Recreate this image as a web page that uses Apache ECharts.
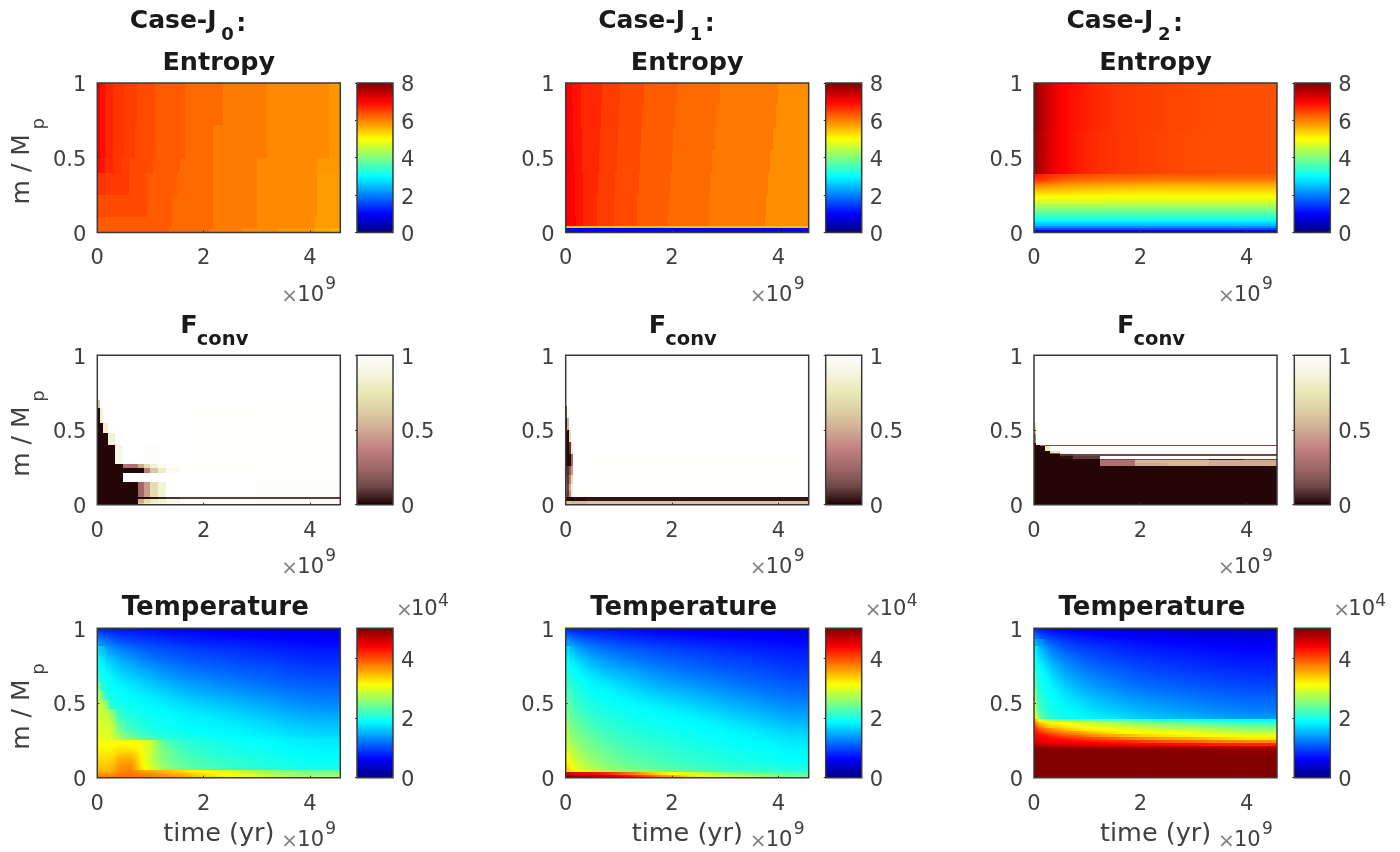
<!DOCTYPE html>
<html>
<head>
<meta charset="utf-8">
<title>Entropy, F_conv and Temperature for three Jupiter cases</title>
<style>
html,body{margin:0;padding:0;background:#fff;}
#chart{width:1400px;height:852px;filter:blur(0.7px);}
</style>
<script src="https://cdn.jsdelivr.net/npm/echarts@6/dist/echarts.min.js"></script>
</head>
<body>
<div id="chart"></div>
<script>
/* ---------- tick labels and ranges ---------- */
const timeTicks = [0, 2, 4];
const massTicks = [0, 0.5, 1];
const timeMax = 4.57;
const entropyTicks = [0, 2, 4, 6, 8];
const fconvTicks = [0, 0.5, 1];
const temperatureTicks = [0, 2, 4];
const caseNames = ['0', '1', '2'];

/* ---------- colour scales ---------- */
const jetColors = ['#000080','#0000ff','#0080ff','#00ffff','#80ff80','#ffff00','#ff8000','#ff0000','#800000'];
const pinkColors = ['#1e0000','#714a4a','#a06868','#c28080','#d0ab93','#ddcda4','#e9e9b4','#f4f4dd','#ffffff'];

/* ---------- Entropy, Case-J0 (band edges differ per mass row) ---------- */
const entropyJ0Times = [
 [0,.06,.14,.3,.5,.74,1.09,1.65,2.37,3.19,4.35,4.57],
 [0,.06,.14,.3,.5,.7,1.09,1.65,2.18,3.19,4.35,4.57],
 [0,.05,.12,.3,.45,.62,1.05,1.55,2.18,3.0,4.13,4.57],
 [0,.1,.6,.93,1.5,2.18,3.0,4.13,4.57],
 [0,.93,1.43,2.18,3.0,4.13,4.57],
 [0,1.4,2.18,3.0,4.1,4.57],
 [0,1.35,2.1,2.7,3.4,4.1,4.4,4.57]
];
const entropyJ0Mass = [1,.72,.5,.4,.25,.1,.03,0];
const entropyJ0 = [
 [7.05,6.9,6.72,6.6,6.52,6.42,6.3,6.17,6.05,5.92,5.82],
 [7.05,6.9,6.72,6.6,6.52,6.42,6.3,6.17,6.05,5.92,5.82],
 [6.95,6.85,6.7,6.6,6.52,6.42,6.3,6.17,6.05,5.92,5.82],
 [6.62,6.55,6.42,6.3,6.17,6.05,5.92,5.78],
 [6.42,6.3,6.17,6.05,5.92,5.78],
 [6.3,6.17,6.05,5.92,5.78],
 [6.3,6.17,6.05,5.92,5.82,5.7,5.6]
];

/* ---------- Entropy, Case-J1 (band edges drift with mass) ---------- */
const entropyJ1Times = [
 [0,.12,.28,.68,1.02,1.47,2.1,2.9,4.0,4.57],
 [0,.13,.29,.66,1,1.44,2.05,2.85,3.95,4.57],
 [0,.14,.3,.64,.98,1.42,2.02,2.8,3.9,4.57],
 [0,.15,.31,.62,.96,1.4,2,2.76,3.85,4.57],
 [0,.17,.32,.6,.93,1.37,1.97,2.72,3.8,4.57],
 [0,.18,.33,.59,.91,1.35,1.95,2.7,3.77,4.57],
 [0,.2,.33,.58,.9,1.34,1.93,2.69,3.75,4.57],
 [0,4.57],
 [0,4.57]
];
const entropyJ1Mass = [1,.85,.7,.55,.4,.25,.1,.04,.03,0];
const entropyJ1 = [
 [7.0,6.85,6.7,6.53,6.42,6.28,6.17,6.06,5.9],
 [7.0,6.85,6.7,6.53,6.42,6.28,6.17,6.06,5.9],
 [7.0,6.85,6.7,6.53,6.42,6.28,6.17,6.06,5.9],
 [7.0,6.85,6.7,6.53,6.42,6.28,6.17,6.06,5.9],
 [7.0,6.85,6.7,6.53,6.42,6.28,6.17,6.06,5.9],
 [7.0,6.85,6.7,6.53,6.42,6.28,6.17,6.06,5.9],
 [7.0,6.85,6.7,6.53,6.42,6.28,6.17,6.06,5.9],
 [5.5],
 [0.95]
];

/* ---------- Entropy, Case-J2 ---------- */
const entropyJ2UpperTimes = [
 [0,.08,.21,.33,.49,.74,1.12,1.6,2.45,3.4,4.57],
 [0,.08,.21,.33,.48,.71,1.02,1.56,2.28,3.19,4.57]
];
const entropyJ2UpperMass = [1,.67,.39];
const entropyJ2Upper = [
 [7.9,7.6,7.35,7.15,6.95,6.78,6.63,6.53,6.44,6.38],
 [7.8,7.55,7.32,7.13,6.95,6.78,6.63,6.53,6.44,6.38]
];
const entropyJ2LowerTimes = [0,.3,.8,1.6,2.8,4.57];
const entropyJ2LowerMass = [.39,.375,.36,.345,.33,.315,.3,.285,.27,.255,.24,.225,.21,.195,.18,.165,.15,.135,.12,.105,.09,.075,.06,.045,.03,.015,0];
const entropyJ2Lower = [
 [6.8,6.5,6.35,6.3,6.25],
 [6.7,6.4,6.25,6.2,6.18],
 [6.55,6.25,6.12,6.08,6.05],
 [6.35,6.08,5.98,5.9,5.9],
 [6.1,5.9,5.8,5.72,5.72],
 [5.85,5.72,5.62,5.55,5.57],
 [5.65,5.55,5.47,5.4,5.42],
 [5.45,5.4,5.33,5.27,5.3],
 [5.28,5.25,5.2,5.15,5.18],
 [5.12,5.1,5.08,5.03,5.06],
 [4.97,4.96,4.95,4.9,4.93],
 [4.8,4.8,4.8,4.77,4.79],
 [4.62,4.62,4.62,4.62,4.62],
 [4.43,4.43,4.43,4.43,4.43],
 [4.25,4.25,4.25,4.25,4.25],
 [4.06,4.06,4.06,4.06,4.06],
 [3.87,3.87,3.87,3.87,3.87],
 [3.68,3.68,3.68,3.68,3.68],
 [3.5,3.5,3.5,3.5,3.5],
 [3.32,3.32,3.32,3.32,3.32],
 [3.05,3.05,3.05,3.05,3.05],
 [2.8,2.8,2.8,2.8,2.8],
 [2.5,2.5,2.5,2.5,2.5],
 [2.1,2.1,2.1,2.1,2.1],
 [1.6,1.6,1.6,1.6,1.6],
 [0.9,0.9,0.9,0.9,0.9]
];

/* ---------- F_conv, Case-J0 ---------- */
const fconvJ0Times = [0,.05,.11,.2,.33,.49,.77,.87,1,1.15,1.3,1.55,3,4.57];
const fconvJ0Mass = [1,.7,.65,.55,.48,.4,.27,.245,.215,.15,.05,.036,.012,0];
const fconvJ0 = [
 [1,1,1,1,1,1,1,1,1,1,1,1,1],
 [.6,1,1,1,1,1,1,1,1,1,1,1,.995],
 [.01,.85,1,1,1,1,1,1,1,1,1,.995,.99],
 [.01,.01,.85,1,1,1,1,1,1,1,1,.995,.99],
 [.01,.01,.01,.85,1,1,1,1,1,1,1,.99,.985],
 [.01,.01,.01,.01,.9,1,.99,.98,.98,.99,1,.99,.985],
 [.01,.01,.01,.01,.01,.3,.5,.7,.85,.95,1,.99,.985],
 [.01,.01,.01,.01,.01,.01,.01,.35,.6,.8,.95,.99,.985],
 [.01,.01,.01,.01,.01,1,1,1,1,1,1,1,.99],
 [.01,.01,.01,.01,.01,.01,.25,.45,.7,.85,1,1,.98],
 [.01,.01,.01,.01,.01,.01,.01,.01,.03,.05,.08,.1,.1],
 [.01,.01,.01,.01,.01,.01,.5,.7,.8,.85,.92,.97,.97],
 [.01,.01,.01,.01,.01,.01,.6,.8,.85,.9,.95,.95,.95]
];

/* ---------- F_conv, Case-J1 ---------- */
const fconvJ1Times = [0,.03,.06,.1,.14,.4,4.57];
const fconvJ1Mass = [1,.66,.58,.5,.42,.34,.26,.2,.14,.09,.05,.025,0];
const fconvJ1 = [
 [1,1,1,1,1,1],
 [.15,.95,1,1,1,1],
 [.01,.5,1,1,1,1],
 [.01,.01,.7,1,1,1],
 [.01,.01,.1,.8,1,1],
 [.01,.01,.01,.25,1,.995],
 [.1,.08,.2,.45,1,.995],
 [.15,.1,.35,.7,1,.99],
 [.2,.12,.5,.85,.99,.99],
 [.2,.1,.4,.9,.99,.985],
 [.01,.01,.01,.01,.02,.03],
 [.6,.6,.6,.55,.55,.6]
];

/* ---------- F_conv, Case-J2 ---------- */
const fconvJ2Times = [0,.03,.11,.2,.3,.49,.74,1.24,1.9,2.5,3.3,3.95,4.57];
const fconvJ2Mass = [1,.55,.47,.41,.397,.39,.36,.345,.337,.328,.305,.297,.28,.257,0];
const fconvJ2 = [
 [1,1,1,1,1,1,1,1,1,1,1,1],
 [.7,1,1,1,1,1,1,1,1,1,1,1],
 [.35,1,1,1,1,1,1,1,1,1,1,1],
 [.01,.95,1,1,1,1,1,1,1,1,1,1],
 [.01,.01,.3,.12,.12,.12,.12,.12,.12,.12,.12,.12],
 [.01,.01,.01,.8,1,1,1,1,1,1,1,1],
 [.01,.01,.01,.01,.75,1,1,1,1,1,1,1],
 [.01,.01,.01,.01,.2,.85,1,1,1,1,1,1],
 [.01,.01,.01,.01,.01,.1,.12,.12,.12,.12,.12,.12],
 [.01,.01,.01,.01,.01,.03,.1,1,1,1,.95,.95],
 [.01,.01,.01,.01,.01,.01,.01,.12,.15,.15,.06,.12],
 [.01,.01,.01,.01,.01,.01,.01,.3,.55,.55,.5,.5],
 [.01,.01,.01,.01,.01,.01,.01,.3,.5,.55,.5,.5],
 [.01,.01,.01,.01,.01,.01,.01,.01,.01,.01,.01,.01]
];

/* ---------- Temperature (x 10^4), Case-J0 ---------- */
const tempJ0Times = [0,.06,.13,.2,.33,.5,.75,.9,1.1,1.4,1.8,2.4,3,3.6,4.57];
const tempJ0Mass = [1,.97,.93,.88,.82,.76,.7,.64,.58,.52,.46,.4,.34,.28,.25,.2,.15,.1,.05,.03,.015,0];
const tempJ0 = [
 [.85,.82,.8,.78,.75,.72,.7,.68,.66,.63,.6,.57,.55,.52],
 [1.1,1.05,1.0,.95,.9,.85,.82,.8,.76,.72,.68,.64,.62,.58],
 [1.4,1.3,1.25,1.15,1.05,1.0,.95,.92,.88,.83,.78,.74,.7,.65],
 [1.7,1.6,1.5,1.4,1.3,1.2,1.12,1.08,1.02,.97,.9,.85,.8,.74],
 [1.87,1.78,1.68,1.58,1.48,1.38,1.28,1.22,1.15,1.08,1.02,.95,.9,.82],
 [1.95,1.88,1.82,1.72,1.62,1.52,1.42,1.38,1.3,1.2,1.12,1.05,1,.92],
 [2.1,1.97,1.9,1.85,1.75,1.65,1.58,1.52,1.42,1.33,1.25,1.15,1.08,1],
 [2.5,2.05,1.97,1.9,1.85,1.78,1.7,1.65,1.57,1.47,1.37,1.27,1.18,1.1],
 [2.75,2.45,2.05,1.97,1.9,1.85,1.82,1.78,1.7,1.6,1.5,1.4,1.3,1.2],
 [2.85,2.8,2.6,2.05,1.97,1.92,1.87,1.85,1.8,1.72,1.63,1.52,1.42,1.3],
 [2.9,2.85,2.85,2.6,2.1,2.0,1.95,1.9,1.87,1.82,1.75,1.65,1.55,1.42],
 [2.95,2.9,2.9,2.85,2.3,2.1,2.02,1.97,1.92,1.87,1.82,1.75,1.65,1.55],
 [3.0,2.95,2.95,2.9,2.5,2.25,2.12,2.05,1.98,1.92,1.87,1.83,1.75,1.65],
 [3.05,3.0,3.0,2.95,2.75,2.5,2.3,2.2,2.1,2.03,1.95,1.88,1.83,1.75],
 [3.1,3.1,3.1,3.1,3.15,3.1,3.05,2.9,2.35,2.12,2.0,1.93,1.87,1.8],
 [3.2,3.2,3.2,3.2,3.3,3.3,3.15,2.85,2.5,2.22,2.07,1.97,1.92,1.84],
 [3.3,3.3,3.3,3.3,3.5,3.55,3.2,2.85,2.5,2.3,2.15,2.05,1.98,1.9],
 [3.4,3.4,3.4,3.45,3.65,3.7,3.25,2.95,2.6,2.37,2.22,2.1,2.02,1.95],
 [3.5,3.5,3.5,3.5,3.7,3.75,3.6,3.55,3.45,3.3,3.05,2.8,2.6,2.4],
 [3.65,3.65,3.65,3.65,3.75,3.8,3.75,3.7,3.6,3.5,3.2,3.0,2.75,2.6],
 [3.75,3.75,3.75,3.75,3.8,3.85,3.8,3.75,3.7,3.55,3.3,3.05,2.85,2.7]
];

/* ---------- Temperature (x 10^4), Case-J1 ---------- */
const tempJ1Times = [0,.1,.3,.6,1,1.5,2,2.5,3,3.5,4,4.57];
const tempJ1Mass = [1,.97,.93,.88,.82,.76,.7,.64,.58,.52,.46,.4,.34,.28,.22,.16,.1,.06,.035,.02,.01,0];
const tempJ1 = [
 [.85,.8,.75,.72,.68,.62,.6,.58,.55,.52,.5],
 [1.1,1.0,.9,.85,.78,.72,.68,.64,.62,.6,.58],
 [1.4,1.25,1.1,1.0,.92,.85,.8,.76,.72,.68,.65],
 [1.7,1.5,1.3,1.18,1.08,1.0,.93,.88,.82,.78,.74],
 [1.85,1.7,1.5,1.35,1.22,1.12,1.05,.98,.93,.88,.82],
 [1.95,1.85,1.65,1.5,1.38,1.25,1.15,1.08,1.02,.96,.9],
 [2.05,1.92,1.8,1.65,1.52,1.38,1.28,1.2,1.12,1.05,.98],
 [2.15,2.0,1.88,1.8,1.65,1.5,1.42,1.32,1.22,1.15,1.08],
 [2.25,2.08,1.95,1.87,1.78,1.65,1.55,1.45,1.35,1.25,1.18],
 [2.35,2.15,2.03,1.93,1.87,1.78,1.68,1.58,1.48,1.38,1.28],
 [2.45,2.25,2.1,2.0,1.92,1.87,1.8,1.7,1.6,1.5,1.4],
 [2.55,2.35,2.2,2.08,1.98,1.92,1.87,1.82,1.72,1.62,1.52],
 [2.65,2.45,2.3,2.15,2.05,1.98,1.92,1.87,1.83,1.75,1.65],
 [2.78,2.55,2.4,2.25,2.12,2.05,1.98,1.92,1.87,1.83,1.75],
 [2.92,2.68,2.5,2.35,2.2,2.12,2.05,1.98,1.93,1.88,1.83],
 [3.1,2.82,2.62,2.45,2.3,2.2,2.12,2.05,2.0,1.95,1.88],
 [3.25,2.95,2.72,2.55,2.4,2.28,2.2,2.12,2.07,2.02,1.97],
 [3.3,3.05,2.85,2.7,2.55,2.42,2.32,2.25,2.18,2.12,2.06],
 [4.6,4.5,4.4,4.2,3.8,3.3,2.95,2.7,2.5,2.35,2.25],
 [5,4.9,4.8,4.6,4.2,3.7,3.3,3.0,2.75,2.55,2.4],
 [5,5,4.9,4.7,4.35,3.85,3.45,3.1,2.85,2.65,2.5]
];

/* ---------- Temperature (x 10^4), Case-J2 ---------- */
const tempJ2Times = [0,.04,.1,.2,.35,.6,1,1.5,2,2.75,3.5,4.57];
const tempJ2Mass = [1,.97,.93,.88,.82,.76,.7,.64,.58,.52,.46,.42,.39,.37,.35,.33,.31,.29,.27,.25,.23,.215,.2,.19,0];
const tempJ2 = [
 [.9,.85,.75,.7,.65,.6,.55,.5,.45,.42,.4],
 [1.2,1.1,1.0,.9,.8,.72,.65,.6,.55,.5,.48],
 [1.55,1.4,1.3,1.1,1,.85,.78,.72,.66,.6,.55],
 [1.85,1.7,1.55,1.35,1.15,1,.9,.82,.75,.7,.65],
 [2.0,1.85,1.72,1.5,1.32,1.15,1,.92,.85,.78,.72],
 [2.1,1.95,1.85,1.68,1.48,1.28,1.12,1.02,.93,.87,.8],
 [2.25,2.02,1.92,1.8,1.6,1.4,1.25,1.12,1.03,.96,.88],
 [2.4,2.1,1.97,1.87,1.72,1.52,1.35,1.22,1.13,1.05,.98],
 [2.65,2.2,2.03,1.92,1.82,1.65,1.48,1.35,1.25,1.15,1.08],
 [2.95,2.3,2.1,1.98,1.88,1.77,1.6,1.48,1.37,1.27,1.18],
 [3.05,2.45,2.18,2.03,1.92,1.85,1.72,1.6,1.48,1.38,1.28],
 [3.25,2.75,2.3,2.1,1.97,1.88,1.8,1.7,1.58,1.48,1.38],
 [3.6,3.3,3.0,2.85,2.75,2.6,2.45,2.3,2.1,2,1.9],
 [3.85,3.6,3.4,3.2,3.15,3.0,2.8,2.65,2.5,2.35,2.2],
 [4.1,3.85,3.65,3.4,3.3,3.15,3.0,2.85,2.7,2.55,2.4],
 [4.25,4.1,3.9,3.7,3.55,3.3,3.12,3.05,2.9,2.8,2.6],
 [4.35,4.25,4.15,3.95,3.8,3.6,3.35,3.15,3.1,3.0,2.8],
 [4.4,4.4,4.3,4.2,4.05,3.9,3.65,3.45,3.3,3.15,3.05],
 [4.5,4.45,4.4,4.35,4.3,4.15,3.95,3.8,3.6,3.45,3.25],
 [4.6,4.55,4.5,4.45,4.4,4.35,4.25,4.15,4,3.85,3.7],
 [4.75,4.7,4.65,4.6,4.55,4.5,4.45,4.4,4.35,4.3,4.2],
 [4.9,4.88,4.85,4.82,4.8,4.78,4.75,4.72,4.7,4.68,4.62],
 [4.98,4.98,4.97,4.96,4.95,4.95,4.94,4.93,4.92,4.9,4.85],
 [5,5,5,5,5,5,5,5,5,5,5]
];

/* ---------- cell table built from the arrays above ----------
   Each row is [t0, t1, m0, m1, value, left, right, top, bottom]. The last four
   only steer how a smooth panel's fill is painted towards its neighbours
   (sharp jumps stay sharp); the plotted value is always the read one. */
const SHARP_STEP = 0.3;
function cells(times, mass, values, shade) {
  const out = [];
  values.forEach(function (row, r) {
    const t = Array.isArray(times[0]) ? times[r] : times;
    row.forEach(function (v, c) {
      const left = shade && c > 0 ? (row[c - 1] + v) / 2 : v;
      const right = shade && c < row.length - 1 ? (row[c + 1] + v) / 2 : v;
      let top = v, bottom = v;
      if (shade === 'xy') {
        if (r > 0 && Math.abs(values[r - 1][c] - v) <= SHARP_STEP) top = (values[r - 1][c] + v) / 2;
        if (r < values.length - 1 && Math.abs(values[r + 1][c] - v) <= SHARP_STEP) bottom = (values[r + 1][c] + v) / 2;
      }
      out.push([t[c], t[c + 1], mass[r + 1], mass[r], v, left, right, top, bottom]);
    });
  });
  return out;
}
const panelCells = [
  [cells(entropyJ0Times, entropyJ0Mass, entropyJ0),
   cells(entropyJ1Times, entropyJ1Mass, entropyJ1),
   cells(entropyJ2UpperTimes, entropyJ2UpperMass, entropyJ2Upper, 'x')
     .concat(cells(entropyJ2LowerTimes, entropyJ2LowerMass, entropyJ2Lower, 'xy'))],
  [cells(fconvJ0Times, fconvJ0Mass, fconvJ0),
   cells(fconvJ1Times, fconvJ1Mass, fconvJ1),
   cells(fconvJ2Times, fconvJ2Mass, fconvJ2)],
  [cells(tempJ0Times, tempJ0Mass, tempJ0, 'xy'),
   cells(tempJ1Times, tempJ1Mass, tempJ1, 'xy'),
   cells(tempJ2Times, tempJ2Mass, tempJ2, 'xy')]
];

/* ---------- layout ---------- */
const FONT = '"DejaVu Sans"';
const TEXT = '#404040';
const DARK = '#1a1a1a';
const FRAME = '#3a3a3a';
const colLeft = [97.3, 565.7, 1034];
const barLeft = [357, 825.7, 1294.3];
const rowTop = [83, 355.3, 628.3];
const plotW = 243, barW = 36, plotH = 149.4;
const scales = [
  { colors: jetColors, max: 8, ticks: entropyTicks },
  { colors: pinkColors, max: 1, ticks: fconvTicks },
  { colors: jetColors, max: 5, ticks: temperatureTicks }
];

function txt(text, x, y, size, o) {
  o = o || {};
  return {
    type: 'text', x: x, y: y, rotation: o.rot || 0, silent: true, z: 50,
    style: {
      text: text, fill: o.fill || TEXT, align: o.align || 'left', verticalAlign: 'middle',
      font: (o.bold ? 'bold ' : '') + size + 'px ' + FONT
    }
  };
}

function paintCell(api, sc) {
  const a = api.coord([api.value(0), api.value(3)]);
  const b = api.coord([api.value(1), api.value(2)]);
  const x0 = Math.round(a[0]), x1 = Math.round(b[0]), y0 = Math.round(a[1]), y1 = Math.round(b[1]);
  const v = api.value(4), l = api.value(5), rr = api.value(6), tp = api.value(7), bt = api.value(8);
  const flat = api.visual('color');
  const tone = function (val) {
    return echarts.color.lerp(Math.min(1, Math.max(0, val / sc.max)), sc.colors);
  };
  if (l === v && rr === v && tp === v && bt === v) {
    return { type: 'rect', shape: { x: x0, y: y0, width: x1 - x0, height: y1 - y0 }, style: { fill: flat } };
  }
  const strips = [];
  const n = Math.max(1, y1 - y0);
  for (let i = 0; i < n; i++) {
    const w = (i + 0.5) / n;
    const d = w < 0.5 ? (tp - v) * (1 - 2 * w) : (bt - v) * (2 * w - 1);
    strips.push({
      type: 'rect', shape: { x: x0, y: y0 + i, width: x1 - x0, height: 1 },
      style: { fill: new echarts.graphic.LinearGradient(0, 0, 1, 0, [
        { offset: 0, color: tone(l + d) },
        { offset: 0.5, color: tone(v + d) },
        { offset: 1, color: tone(rr + d) }
      ]) }
    });
  }
  return { type: 'group', children: strips };
}

const option = { animation: false, backgroundColor: '#fff', grid: [], xAxis: [], yAxis: [], series: [], visualMap: [], graphic: { elements: [] } };
const G = option.graphic.elements;

rowTop.forEach(function (top, r) {
  colLeft.forEach(function (left, c) {
    const sc = scales[r];
    /* heat map panel */
    const gi = option.grid.length;
    option.grid.push({ left: left, top: top, width: plotW, height: plotH, show: true, z: 10,
      backgroundColor: 'transparent', borderColor: FRAME, borderWidth: 1.5 });
    option.xAxis.push({ gridIndex: gi, type: 'value', min: 0, max: timeMax, z: 11,
      axisLine: { show: false }, splitLine: { show: false },
      axisTick: { show: true, inside: true, length: 2, customValues: timeTicks, lineStyle: { color: FRAME } },
      axisLabel: { show: true, customValues: timeTicks, margin: 16, fontFamily: FONT, fontSize: 21, color: TEXT, formatter: String } });
    option.yAxis.push({ gridIndex: gi, type: 'value', min: 0, max: 1, z: 11,
      axisLine: { show: false }, splitLine: { show: false },
      axisTick: { show: true, inside: true, length: 2, customValues: massTicks, lineStyle: { color: FRAME } },
      axisLabel: { show: true, customValues: massTicks, margin: 11, verticalAlign: 'top', lineHeight: 6, fontFamily: FONT, fontSize: 21, color: TEXT, formatter: String } });
    const si = option.series.length;
    option.series.push({
      type: 'custom', xAxisIndex: gi, yAxisIndex: gi, clip: true, silent: true, progressive: 0,
      dimensions: ['t0', 't1', 'm0', 'm1', 'value', 'left', 'right', 'top', 'bottom'],
      encode: { x: [0, 1], y: [2, 3] },
      data: panelCells[r][c],
      renderItem: function (params, api) { return paintCell(api, sc); }
    });
    /* colour bar: the visual map of that panel, with a framed axis over it */
    option.visualMap.push({
      type: 'continuous', seriesIndex: si, dimension: 4, min: 0, max: sc.max, calculable: false,
      show: true, left: barLeft[c], top: top, itemWidth: barW, itemHeight: plotH, padding: 0,
      text: null, showLabel: false, hoverLink: false, inRange: { color: sc.colors }
    });
    const bi = option.grid.length;
    option.grid.push({ left: barLeft[c], top: top, width: barW, height: plotH, show: true, z: 10,
      backgroundColor: 'transparent', borderColor: FRAME, borderWidth: 1.5 });
    option.xAxis.push({ gridIndex: bi, type: 'value', min: 0, max: 1, show: false });
    option.yAxis.push({ gridIndex: bi, type: 'value', position: 'right', min: 0, max: sc.max, z: 11,
      axisLine: { show: false }, splitLine: { show: false },
      axisTick: { show: true, inside: true, length: 2, customValues: sc.ticks, lineStyle: { color: FRAME } },
      axisLabel: { show: true, customValues: sc.ticks, margin: 8, verticalAlign: 'top', lineHeight: 6, fontFamily: FONT, fontSize: 21, color: TEXT, formatter: String } });

    /* y label, only in the first column */
    if (c === 0) {
      const yBase = top + plotH;
      G.push(txt('m / M', 22, yBase - 28, 25, { rot: Math.PI / 2 }));
      G.push(txt('p', 39, yBase - 103, 18, { rot: Math.PI / 2 }));
    }
    /* x multiplier */
    const xBase = top + plotH + 63;
    G.push(txt('\u00d7', left + 184, xBase + 1, 20, { fill: '#808080' }));
    G.push(txt('10', left + 200, xBase, 21));
    G.push(txt('9', left + 228, xBase - 11, 17));
  });
});

colLeft.forEach(function (left, c) {
  const mid = left + plotW / 2;
  /* case heading */
  G.push(txt('Case-J', left + 32.5, 21, 25, { bold: true, fill: DARK }));
  G.push(txt(caseNames[c], left + 124, 35, 18, { bold: true, fill: DARK }));
  G.push(txt(':', left + 139, 24, 25, { bold: true, fill: DARK }));
  /* panel titles */
  G.push(txt('Entropy', mid, 63, 25.5, { bold: true, align: 'center', fill: DARK }));
  G.push(txt('F', left + 83, 326, 25.5, { bold: true, fill: DARK }));
  G.push(txt('conv', left + 99.5, 340, 19.5, { bold: true, fill: DARK }));
  G.push(txt('Temperature', mid - 3.5, 608, 26, { bold: true, align: 'center', fill: DARK }));
  /* time label */
  G.push(txt('time (yr)', left + 66, 834, 25.5));
  /* colour bar multiplier */
  G.push(txt('\u00d7', barLeft[c] + 39, 611, 20, { fill: '#808080' }));
  G.push(txt('10', barLeft[c] + 54, 610, 21));
  G.push(txt('4', barLeft[c] + 81, 602, 17));
});

const chart = echarts.init(document.getElementById('chart'), null, { renderer: 'canvas', width: 1400, height: 852 });
chart.setOption(option);
</script>
</body>
</html>
